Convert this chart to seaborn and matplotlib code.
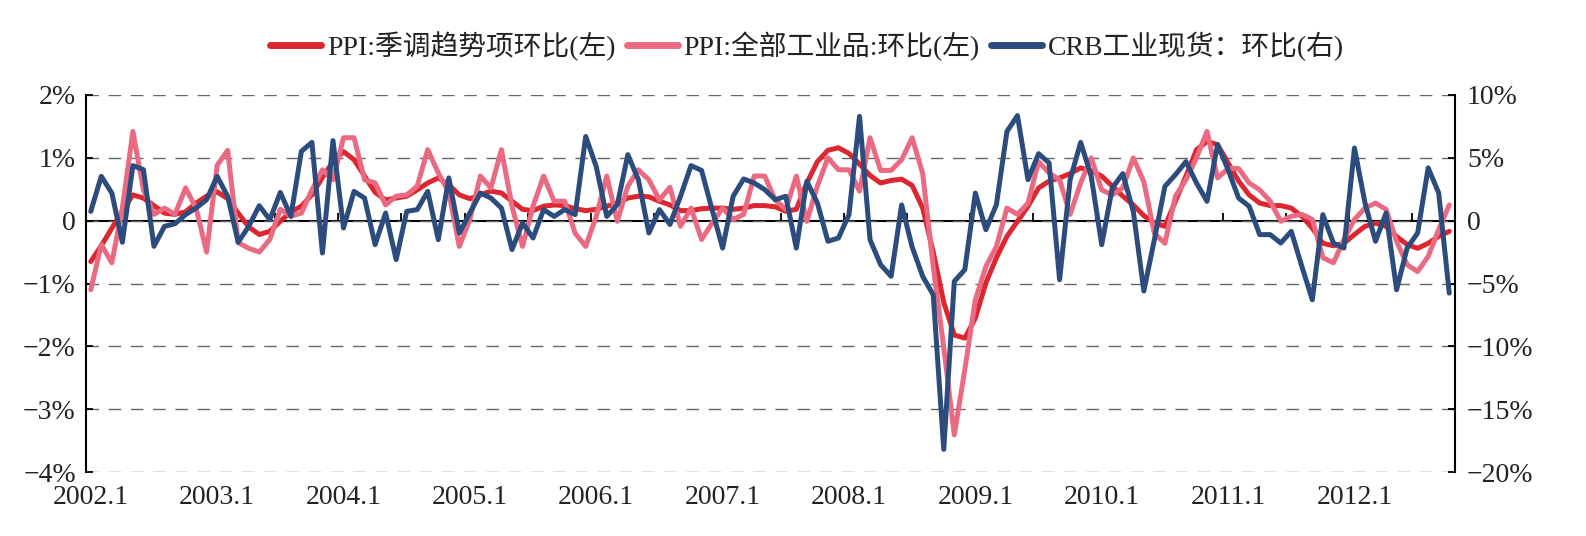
import numpy as np
import pandas as pd
import matplotlib
matplotlib.use("Agg")
import matplotlib.pyplot as plt
import seaborn as sns

# monthly data, 2002.1 - 2012.10
ppi_trend = [
    -0.65, -0.40, -0.12, 0.15, 0.41, 0.36, 0.24, 0.12, 0.10, 0.14, 0.28, 0.39,
    0.46, 0.35, 0.12, -0.10, -0.22, -0.17, -0.01, 0.14, 0.23, 0.41, 0.69, 0.94,
    1.10, 0.97, 0.71, 0.45, 0.33, 0.36, 0.39, 0.49, 0.60, 0.68, 0.57, 0.41,
    0.35, 0.41, 0.47, 0.44, 0.31, 0.18, 0.16, 0.23, 0.25, 0.24, 0.19, 0.16,
    0.18, 0.23, 0.28, 0.36, 0.39, 0.38, 0.31, 0.25, 0.16, 0.16, 0.19, 0.20,
    0.20, 0.18, 0.20, 0.24, 0.24, 0.22, 0.15, 0.18, 0.60, 0.94, 1.12, 1.16,
    1.07, 0.90, 0.72, 0.60, 0.64, 0.66, 0.56, 0.20, -0.50, -1.30, -1.82, -1.87,
    -1.55, -0.99, -0.59, -0.25, -0.01, 0.23, 0.52, 0.63, 0.68, 0.75, 0.84, 0.79,
    0.71, 0.55, 0.39, 0.25, 0.08, -0.04, -0.09, 0.31, 0.71, 1.13, 1.26, 1.21,
    0.92, 0.63, 0.41, 0.28, 0.24, 0.24, 0.20, 0.07, -0.12, -0.36, -0.40, -0.36,
    -0.22, -0.09, -0.04, -0.09, -0.25, -0.38, -0.44, -0.36, -0.25, -0.17,
]
ppi_all = [
    -1.10, -0.38, -0.67, 0.20, 1.42, 0.49, 0.10, 0.20, 0.10, 0.52, 0.20, -0.50,
    0.88, 1.12, -0.35, -0.44, -0.50, -0.30, 0.18, 0.07, 0.12, 0.49, 0.81, 0.65,
    1.32, 1.32, 0.65, 0.60, 0.25, 0.39, 0.41, 0.55, 1.13, 0.76, 0.45, -0.41,
    0.02, 0.71, 0.52, 1.13, 0.23, -0.41, 0.23, 0.71, 0.31, 0.31, -0.20, -0.41,
    0.07, 0.71, -0.01, 0.55, 0.81, 0.65, 0.33, 0.53, -0.09, 0.20, -0.30, -0.04,
    0.20, 0.02, 0.10, 0.71, 0.71, 0.33, 0.18, 0.71, -0.01, 0.55, 1.00, 0.81,
    0.81, 0.47, 1.32, 0.80, 0.80, 0.97, 1.32, 0.75, -0.73, -2.02, -3.41, -2.37,
    -1.26, -0.73, -0.41, 0.20, 0.10, 0.28, 0.94, 0.76, 0.65, 0.10, 0.60, 1.00,
    0.49, 0.41, 0.52, 1.00, 0.62, -0.20, -0.36, 0.39, 0.65, 1.00, 1.42, 0.68,
    0.83, 0.83, 0.60, 0.49, 0.31, -0.01, 0.07, 0.10, 0.02, -0.59, -0.67, -0.30,
    0.02, 0.20, 0.28, 0.18, -0.33, -0.70, -0.81, -0.57, -0.14, 0.25,
]
crb = [
    0.74, 3.53, 2.20, -1.72, 4.38, 4.06, -2.04, -0.45, -0.24, 0.48, 1.01, 1.67,
    3.53, 1.94, -1.72, -0.45, 1.19, 0.08, 2.25, 0.34, 5.52, 6.23, -2.57, 6.37,
    -0.58, 2.33, 1.80, -1.91, 0.61, -3.10, 0.74, 0.88, 2.33, -1.51, 3.40, -0.98,
    0.61, 2.20, 1.80, 1.00, -2.30, -0.19, -1.38, 0.88, 0.34, 0.88, 0.48, 6.70,
    4.30, 0.34, 1.27, 5.25, 3.26, -0.98, 0.88, -0.30, 1.94, 4.38, 4.00, 0.88,
    -2.18, 1.94, 3.32, 3.00, 2.47, 1.67, 1.94, -2.18, 3.13, 1.41, -1.64, -1.38,
    0.48, 8.30, -1.51, -3.50, -4.43, 1.25, -2.10, -4.43, -5.90, -18.20, -4.83, -3.90,
    2.20, -0.72, 1.27, 7.10, 8.36, 3.26, 5.33, 4.60, -4.70, 3.26, 6.23, 3.53,
    -1.91, 2.60, 3.74, 0.74, -5.60, -1.51, 2.73, 3.66, 4.70, 3.00, 1.54, 6.05,
    4.06, 1.80, 1.14, -1.11, -1.11, -1.78, -0.85, -3.63, -6.30, 0.48, -1.78, -2.18,
    5.78, 1.41, -1.64, 0.61, -5.50, -2.18, -0.98, 4.20, 2.20, -5.76,
]

series_names = ["PPI:季调趋势项环比(左)", "PPI:全部工业品:环比(左)", "CRB工业现货：环比(右)"]
year_labels = ["2002.1", "2003.1", "2004.1", "2005.1", "2006.1", "2007.1",
               "2008.1", "2009.1", "2010.1", "2011.1", "2012.1"]
left_ticks = [-4, -3, -2, -1, 0, 1, 2]
left_labels = ["−4%", "−3%", "−2%", "−1%", "0", "1%", "2%"]
right_ticks = [-20, -15, -10, -5, 0, 5, 10]
right_labels = ["−20%", "−15%", "−10%", "−5%", "0", "5%", "10%"]

colors = ["#DC2630", "#EA6A82", "#2C4C7E"]

df = pd.DataFrame({"t": np.arange(len(ppi_trend)), "trend": ppi_trend,
                   "ppi": ppi_all, "crb": crb})
n = len(df)

sns.set_theme(style="white")
plt.rcParams["font.family"] = ["Liberation Serif", "Noto Sans CJK SC"]
plt.rcParams["axes.unicode_minus"] = True

fig = plt.figure(figsize=(15.86, 5.36), dpi=100)
ax = fig.add_axes([85.5 / 1586, 1 - 472 / 536, (1454.5 - 85.5) / 1586, 377 / 536])
ax2 = ax.twinx()

sns.lineplot(data=df, x="t", y="trend", ax=ax, color=colors[0], lw=3.6, legend=False, zorder=3)
sns.lineplot(data=df, x="t", y="ppi", ax=ax, color=colors[1], lw=3.6, legend=False, zorder=4)
sns.lineplot(data=df, x="t", y="crb", ax=ax2, color=colors[2], lw=3.6, legend=False, zorder=3)

ax.set_xlim(-0.5, n - 0.5)
ax.set_ylim(-4, 2)
ax2.set_ylim(-20, 10)

ax.set_xticks(np.arange(0, n, 12))
ax.set_xticklabels(year_labels)
ax.set_yticks(left_ticks)
ax.set_yticklabels(left_labels)
ax2.set_yticks(right_ticks)
ax2.set_yticklabels(right_labels)
ax.set_xlabel("")
ax.set_ylabel("")
ax2.set_ylabel("")

ax.tick_params(axis="x", length=0, pad=9, labelsize=20, labelcolor="#222222")
ax.tick_params(axis="y", direction="in", length=5, width=1.3, color="black",
               pad=7, labelsize=20, labelcolor="#222222")
ax2.tick_params(axis="y", direction="in", length=5, width=1.3, color="black",
                pad=9, labelsize=20, labelcolor="#222222")

ax.yaxis.grid(True, color="#666666", ls=(0, (9, 7)), lw=1.0)
ax.xaxis.grid(False)
ax.set_axisbelow(True)

for s in ["top", "bottom"]:
    ax.spines[s].set_visible(False)
for s in ["top", "bottom", "left"]:
    ax2.spines[s].set_visible(False)
ax.spines["left"].set_color("black")
ax.spines["left"].set_linewidth(1.5)
ax2.spines["right"].set_color("black")
ax2.spines["right"].set_linewidth(1.5)

# zero line with half-year tick marks
zero = ax.secondary_xaxis(2 / 3)
zero.set_xticks(np.arange(-0.5, n, 6))
zero.tick_params(axis="x", direction="out", length=6, width=1.3, color="black",
                 labeltop=False, labelbottom=False)
for s in ["top", "bottom"]:
    zero.spines[s].set_color("black")
    zero.spines[s].set_linewidth(1.5)

handles = ax.get_lines()[:2] + ax2.get_lines()[:1]
leg = fig.legend(handles, series_names, loc="center",
                 bbox_to_anchor=(807 / 1586, 1 - 46 / 536), ncol=3, frameon=False,
                 fontsize=20, handlelength=1.85, handletextpad=0.2, columnspacing=0.4)
for h in leg.legend_handles:
    h.set_linewidth(5)
for t in leg.get_texts():
    t.set_color("#222222")

fig.savefig("out.png", dpi=100)
